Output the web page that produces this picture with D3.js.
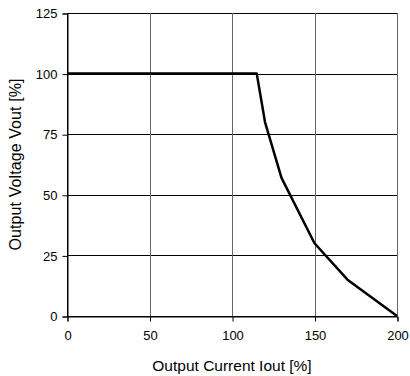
<!DOCTYPE html>
<html>
<head>
<meta charset="utf-8">
<script src="https://cdn.jsdelivr.net/npm/d3@7"></script>
<style>
  body { margin: 0; background: #fff; }
  text { font-family: "Liberation Sans", Arial, sans-serif; }
</style>
</head>
<body>
<div id="chart"></div>
<script>
const current = [0, 115, 120, 130, 150, 170, 200];
const voltage = [100, 100, 80, 57, 30, 15, 0];
const xTicks = [0, 50, 100, 150, 200];
const yTicks = [0, 25, 50, 75, 100, 125];

let dim = {width: 410, height: 376};
let m = {left: 67, right: 13, top: 13, bottom: 60};

let svg = d3.select('#chart').append('svg')
    .attr('width', dim.width)
    .attr('height', dim.height);

let x = d3.scaleLinear().domain([0, 200]).range([m.left, dim.width - m.right]);
let y = d3.scaleLinear().domain([0, 125]).range([dim.height - m.bottom, m.top]);

// grid
svg.append('g').selectAll('line')
    .data(yTicks)
    .enter().append('line')
    .attr('x1', x(0)).attr('x2', x(200))
    .attr('y1', d => Math.round(y(d)) + 0.5).attr('y2', d => Math.round(y(d)) + 0.5)
    .attr('stroke', '#000');

svg.append('g').selectAll('line')
    .data(xTicks)
    .enter().append('line')
    .attr('y1', y(0)).attr('y2', y(125))
    .attr('x1', d => Math.round(x(d)) + 0.5).attr('x2', d => Math.round(x(d)) + 0.5)
    .attr('stroke', d => d === 0 ? '#000' : '#666');

let axisX = d3.axisBottom(x).tickValues(xTicks).tickSize(5).tickPadding(9);
let axisY = d3.axisLeft(y).tickValues(yTicks).tickSize(5).tickPadding(5);

let gx = svg.append('g')
    .attr('transform', `translate(0.5,${Math.round(y(0)) + 0.5})`)
    .call(axisX);
let gy = svg.append('g')
    .attr('transform', `translate(${Math.round(x(0)) + 0.5},0.5)`)
    .call(axisY);

[gx, gy].forEach(g => {
  g.select('.domain').attr('stroke', '#000');
  g.selectAll('.tick line').attr('stroke', '#000');
  g.selectAll('text').attr('font-size', 13).attr('fill', '#000')
    .style('font-family', '"Liberation Sans", Arial, sans-serif');
});

// curve
let line = d3.line().x(d => x(d[0])).y(d => y(d[1]));
svg.append('path')
    .datum(d3.zip(current, voltage))
    .attr('d', line)
    .attr('fill', 'none')
    .attr('stroke', '#000')
    .attr('stroke-width', 2.5)
    .attr('stroke-linejoin', 'round');

svg.append('text')
    .attr('x', (x(0) + x(200)) / 2)
    .attr('y', 371)
    .attr('text-anchor', 'middle')
    .attr('font-size', 15.5)
    .text('Output Current Iout [%]');

svg.append('text')
    .attr('transform', `translate(21,${(y(0) + y(125)) / 2}) rotate(-90)`)
    .attr('text-anchor', 'middle')
    .attr('font-size', 16)
    .attr('textLength', 172)
    .text('Output Voltage Vout [%]');
</script>
</body>
</html>
